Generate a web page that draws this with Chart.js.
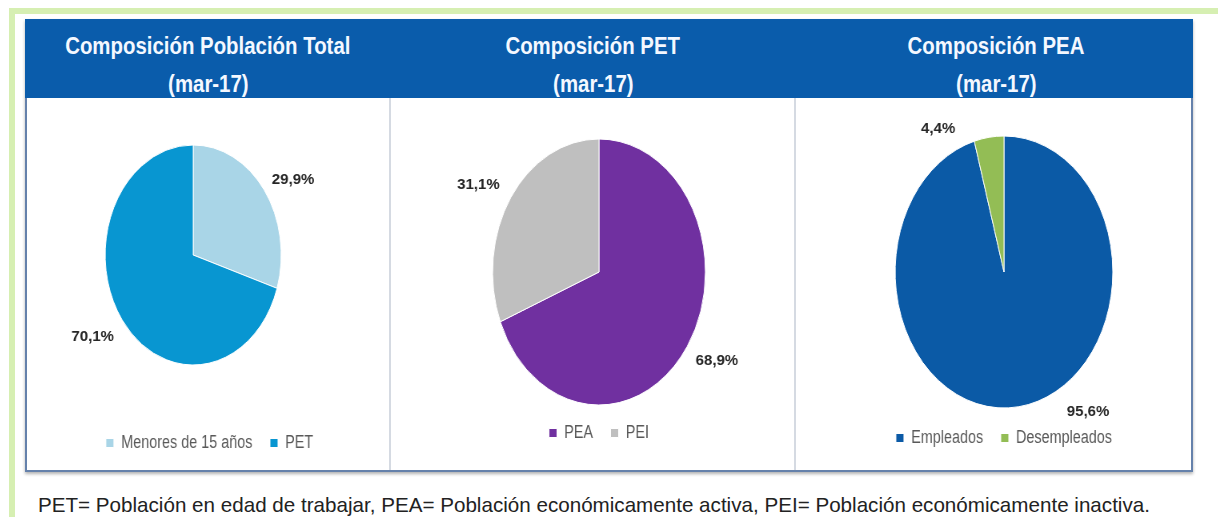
<!DOCTYPE html>
<html>
<head>
<meta charset="utf-8">
<script src="https://cdn.jsdelivr.net/npm/chart.js@4.4.1/dist/chart.umd.min.js"></script>
<style>
    body { margin: 0; width: 1218px; height: 517px; background: #fff; position: relative; overflow: hidden; font-family: "Liberation Sans", Arial, sans-serif; }
    #greenTop { position: absolute; left: 9px; top: 8px; width: 1209px; height: 6px; background: #d6efb2; }
    #greenLeft { position: absolute; left: 9px; top: 8px; width: 6px; height: 509px; background: #d6efb2; }
    #frame { position: absolute; left: 25px; top: 19px; width: 1168px; height: 453px; box-sizing: border-box; border: 2px solid #6581ab; background: #fff; box-shadow: 0 2px 3px rgba(0,0,0,.3); }
    #header { position: absolute; left: 25px; top: 19px; width: 1168px; height: 79px; background: #0a5cab; }
    .divider { position: absolute; top: 98px; height: 372px; width: 2px; background: #d5dae2; }
    .title { position: absolute; width: 400px; text-align: center; color: #f4f8ff; font-weight: bold; font-size: 24px; line-height: 24px; }
    .title span { display: inline-block; transform: scaleX(0.85); }
    .pie { position: absolute; top: 0; transform: scaleX(0.8); transform-origin: 0 0; }
    #note { position: absolute; left: 38px; top: 494px; font-size: 21px; line-height: 21px; color: #222; white-space: nowrap; transform-origin: 0 0; }
</style>
</head>
<body>
<div id="greenTop"></div>
<div id="greenLeft"></div>
<div id="frame"></div>
<div id="header"></div>
<div class="divider" style="left:389px"></div>
<div class="divider" style="left:794px"></div>

<div class="title" style="left:8px;top:34px"><span>Composición Población Total</span></div>
<div class="title" style="left:8px;top:72px"><span>(mar-17)</span></div>
<div class="title" style="left:393px;top:34px"><span>Composición PET</span></div>
<div class="title" style="left:393px;top:72px"><span>(mar-17)</span></div>
<div class="title" style="left:796px;top:34px"><span>Composición PEA</span></div>
<div class="title" style="left:796px;top:72px"><span>(mar-17)</span></div>

<canvas id="pieTotal" class="pie" width="454" height="470" style="left:26px"></canvas>
<canvas id="piePet" class="pie" width="504" height="470" style="left:391px"></canvas>
<canvas id="piePea" class="pie" width="498" height="470" style="left:796px"></canvas>

<div id="note">PET= Población en edad de trabajar, PEA= Población económicamente activa, PEI= Población económicamente inactiva.</div>

<script>
// data (mar-17), percentages
const totalLabels = ['Menores de 15 años', 'PET'];
const totalValues = [29.9, 70.1];
const petLabels = ['PEA', 'PEI'];
const petValues = [68.9, 31.1];
const peaLabels = ['Empleados', 'Desempleados'];
const peaValues = [95.6, 4.4];

const squeeze = 0.8; // the pies in the picture are stretched vertically

// percent labels outside each slice
const pctLabels = {
    id: 'pctLabels',
    afterDatasetsDraw(chart, args, opts) {
        const ctx = chart.ctx;
        const meta = chart.getDatasetMeta(0);
        const values = chart.data.datasets[0].data;
        ctx.save();
        ctx.font = 'bold 15px "Liberation Sans", Arial, sans-serif';
        ctx.fillStyle = '#262626';
        ctx.textAlign = 'center';
        ctx.textBaseline = 'middle';
        meta.data.forEach((arc, i) => {
            const mid = (arc.startAngle + arc.endAngle) / 2 + (opts.nudge[i] || 0) * Math.PI / 180;
            const dist = arc.outerRadius + opts.offset[i];
            ctx.save();
            ctx.translate(arc.x + Math.cos(mid) * dist, arc.y + Math.sin(mid) * dist);
            ctx.scale(1 / squeeze, 1);
            ctx.fillText(values[i].toFixed(1).replace('.', ',') + '%', 0, 0);
            ctx.restore();
        });
        ctx.restore();
    }
};

const makePie = (id, labels, values, colors, radius, padding, legendAlign, labelOpts) => {
    return new Chart(document.getElementById(id), {
        type: 'pie',
        data: {
            labels: labels,
            datasets: [{
                data: values,
                backgroundColor: colors,
                borderColor: '#fff',
                borderWidth: 1,
                radius: radius
            }]
        },
        options: {
            responsive: false,
            animation: false,
            layout: { padding: padding },
            plugins: {
                legend: {
                    position: 'bottom',
                    align: legendAlign,
                    labels: {
                        boxWidth: 10,
                        boxHeight: 9,
                        padding: 22,
                        color: '#595959',
                        font: { family: '"Liberation Sans", Arial, sans-serif', size: 18 }
                    }
                },
                tooltip: { enabled: false },
                pctLabels: labelOpts
            }
        },
        plugins: [pctLabels]
    });
};

makePie('pieTotal', totalLabels, totalValues, ['#a9d5e7', '#0896d1'], 110,
    { top: 98, bottom: 8, left: 37, right: 73 }, 'end',
    { offset: [36, 40], nudge: [5, 3] });

makePie('piePet', petLabels, petValues, ['#7030a0', '#bfbfbf'], 133,
    { top: 142, bottom: 18, left: 16, right: 0 }, 'center',
    { offset: [39, 41], nudge: [-3, -4] });

makePie('piePea', peaLabels, peaValues, ['#0b5aa6', '#93bd55'], 136,
    { top: 137, bottom: 13, left: 22, right: 0 }, 'center',
    { offset: [39, 29], nudge: [-29, -22] });

// fit the footnote to its width in the picture
const note = document.getElementById('note');
note.style.transform = 'scaleX(' + (1112 / note.offsetWidth) + ')';
</script>
</body>
</html>
